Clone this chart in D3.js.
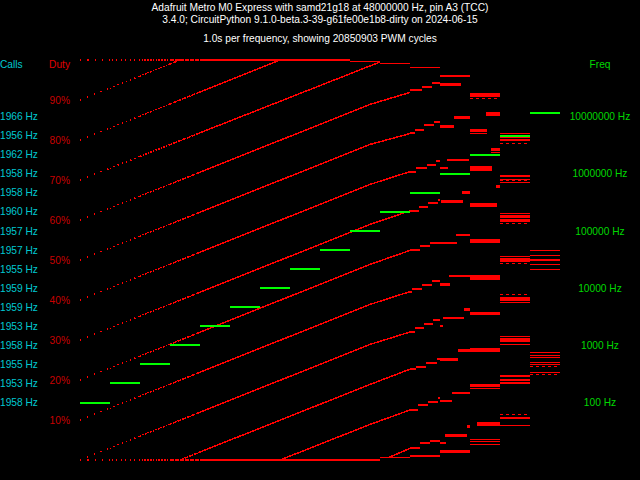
<!DOCTYPE html>
<html><head><meta charset="utf-8">
<script src="https://cdn.jsdelivr.net/npm/d3@7"></script>
<style>
body{margin:0;background:#000;}
svg{display:block;background:#000;}
text{font-family:"Liberation Sans",Arial,sans-serif;font-size:10.2px;}
</style>
</head><body>
<svg id="chart" width="640" height="480"></svg>
<script>
// ---------- data ----------
const titleLines = [
  "Adafruit Metro M0 Express with samd21g18 at 48000000 Hz, pin A3 (TCC)",
  "3.4.0; CircuitPython 9.1.0-beta.3-39-g61fe00e1b8-dirty on 2024-06-15",
  "1.0s per frequency, showing 20850903 PWM cycles"
];
const requestedFreqs = [100, 215, 464, 1000, 2154, 4642, 10000, 21544, 46416,
  100000, 215443, 464159, 1000000, 2154435, 4641589, 10000000];
const measuredFreqs = [100, 215, 464, 1000, 2154, 4642, 10000, 21544, 46416,
  100000, 215443, 464159, 1000000, 2154435, 4641589, 11600000];
const callsPerSec = [1958, 1953, 1955, 1958, 1953, 1959, 1959, 1955, 1957,
  1957, 1960, 1958, 1958, 1962, 1956, 1966];
const freqTicks = [100, 1000, 10000, 100000, 1000000, 10000000];
const dutyTicks = [10, 20, 30, 40, 50, 60, 70, 80, 90];
const secondsPerFreq = 1.0;

// measured-duty traces up to 215 kHz: [time s, duty %]
const trace0 = [[0, 0], [9.67, 28.9], [11, 32.0]];
const trace1 = [[0, 10], [9.67, 38.9], [11, 42.1]];
const trace2 = [[0, 20], [9.67, 48.9], [11, 52.4]];
const trace3 = [[0, 30], [9.67, 58.9], [11, 62.3]];
const trace4 = [[0, 40], [9.67, 68.9], [11, 72.1]];
const trace5 = [[0, 50], [9.67, 78.9], [11, 81.6]];
const trace6 = [[0, 60], [9.67, 88.9], [11, 91.9]];
const trace7 = [[0, 70], [10, 99.5]];
const trace8 = [[0, 80], [6.67, 100]];
const trace9 = [[0, 90], [3.33, 100]];
const traceE1 = [[3.33, 0], [9.67, 18.9], [11, 22.7]];
const traceE2 = [[6.67, 0], [9.67, 8.9], [11, 12.5]];
const traceE3 = [[10.25, 0.5], [11, 2.9]];
const topClamp = [[0, 100], [9, 100]];
const topClamp2 = [[9, 99.6], [10, 99.6]];
const bottomClamp = [[0, 0], [10, 0]];

// 464 kHz staircase levels: [step start time s, duty %]
const steps0 = [[11, 32.1], [11.17, 33.1], [11.47, 34.1], [11.77, 35.1], [12, 35.1]];
const steps1 = [[11, 42.1], [11.07, 42.8], [11.4, 43.8], [11.73, 44.8], [12, 44.8]];
const steps2 = [[11, 52.5], [11.33, 53.4], [11.67, 54.3], [12, 54.3]];
const steps3 = [[11, 62.3], [11.3, 63.2], [11.6, 64.2], [11.93, 65.0], [12, 65.0]];
const steps4 = [[11, 72.1], [11.2, 72.9], [11.57, 73.8], [11.87, 74.75], [12, 74.75]];
const steps5 = [[11, 81.7], [11.17, 82.5], [11.47, 83.7], [11.8, 84.6], [12, 84.6]];
const steps6 = [[11, 92.4], [11.4, 93.25], [11.73, 94.3], [12, 94.3]];
const stepsE1 = [[11, 22.7], [11.2, 23.25], [11.53, 24.25], [11.9, 25.25], [12, 25.25]];
const stepsE2 = [[11, 12.5], [11.27, 13.7], [11.6, 14.6], [11.93, 15.6], [12, 15.6]];
const stepsE3 = [[11, 3.1], [11.33, 4.2], [11.67, 4.8], [12, 4.8]];

// quantised readings as [t0, t1, dutyLow, dutyHigh]
const clampBars = [[10, 11, 99.0, 99.3], [11, 12, 98.05, 98.35], [12, 13, 95.7, 96.3],
  [10, 11, 0.4, 0.75], [11, 12, 0.8, 1.3], [12, 13, 1.8, 2.4]];
const bars1MHz = [
  [12, 12.7, 93.6, 94.3],
  [12, 12.47, 83.1, 83.75], [12.47, 13, 85.3, 86.0],
  [12, 12.27, 72.75, 73.3], [12.23, 12.97, 74.75, 75.2],
  [12.03, 12.77, 64.3, 65.0], [12.73, 13, 66.5, 67.25],
  [12, 12.57, 53.9, 54.4], [12.53, 13, 56.1, 56.4],
  [12, 12.33, 43.6, 44.2], [12.3, 13, 45.7, 46.25],
  [12, 12.1, 33.25, 33.75], [12.1, 12.8, 35.2, 35.75], [12.8, 13, 37.3, 38.0],
  [12, 12.6, 24.8, 25.4], [12.6, 13, 26.9, 27.75],
  [12, 12.4, 14.4, 14.9], [12.4, 13, 16.4, 16.9],
  [12, 12.2, 3.9, 4.4], [12.17, 12.9, 5.8, 6.5], [12.9, 13, 8.1, 8.75]
];
const bars2MHz = [
  [13, 14, 90.8, 91.8], [13.53, 14, 86.1, 86.9], [13, 13.57, 81.9, 82.75],
  [13, 13.57, 81.55, 81.8], [13.7, 14, 77.25, 78.0], [13.7, 14, 76.9, 77.1],
  [13, 13.73, 72.3, 73.5], [13.87, 14, 68.0, 68.75], [13, 13.9, 63.3, 64.2],
  [13, 14, 54.2, 55.25], [13, 14, 45.0, 46.25], [13, 14, 36.2, 37.0],
  [13, 14, 26.9, 27.9], [13, 14, 18.25, 18.9], [13, 14, 17.85, 18.1],
  [13.23, 14, 8.6, 9.6], [13, 14, 5.05, 5.3], [13, 14, 4.45, 4.7], [13, 14, 3.9, 4.1]
];
const bars5MHz = [
  [14, 15, 81.6, 81.85], [14, 15, 80.6, 80.8], [14, 15, 79.8, 80.2],
  [14, 15, 70.75, 71.25], [14, 15, 70.1, 70.35], [14, 15, 69.15, 69.4],
  [14, 15, 61.6, 61.8], [14, 15, 60.6, 61.25], [14, 15, 59.6, 60.25],
  [14, 15, 50.9, 51.1], [14, 15, 49.6, 50.6],
  [14, 15, 39.8, 40.7], [14, 15, 39.35, 39.55],
  [14, 15, 30.9, 31.1], [14, 15, 29.4, 30.4], [14, 15, 28.75, 29.1],
  [14, 15, 20.8, 21.25], [14, 15, 19.8, 20.25], [14, 15, 19.0, 19.4],
  [14, 15, 10.25, 10.75], [14, 15, 8.65, 8.85]
];
const bars10MHz = [
  [15, 16, 52.3, 52.55], [15, 16, 51.05, 51.3], [15, 16, 49.75, 50.2],
  [15, 16, 48.9, 49.1], [15, 16, 47.55, 47.8],
  [15, 16, 26.8, 27.05], [15, 16, 26.1, 26.35], [15, 16, 25.55, 25.8],
  [15, 16, 24.3, 24.55], [15, 16, 23.8, 24.05], [15, 16, 21.9, 22.1]
];
const sparseBars = [
  [13, 14, 90.3, 90.55],
  [14, 15, 79.1, 79.3], [14, 15, 69.7, 69.9], [14, 15, 59.1, 59.3],
  [14, 15, 49.1, 49.3], [14, 15, 41.35, 41.55], [14, 15, 11.35, 11.55],
  [15, 16, 23.25, 23.5], [15, 16, 21.3, 21.55]
];

// ---------- drawing ----------
const svg = d3.select("#chart");
const W = 640, H = 480;
svg.append("rect").attr("width", W).attr("height", H).attr("fill", "#000");

const nSeg = requestedFreqs.length;
const x = d3.scaleLinear().domain([0, nSeg * secondsPerFreq]).range([80, 560]);
const y = d3.scaleLinear().domain([0, 100]).range([460, 60]);
const yf = d3.scaleLog().domain([100, 10000000]).range([402.5, 116.5]);

const RED = "#ff0000";

// titles
const titleY = [7, 19, 38];
svg.selectAll("text.title").data(titleLines).join("text")
  .attr("class", "title")
  .attr("x", 320).attr("y", (d, i) => titleY[i] + 3.6)
  .attr("text-anchor", "middle").attr("fill", "#ffffff").text(d => d);

// headers
svg.append("text").attr("x", 0).attr("y", 67.6).attr("fill", "#00c8d2").text("Calls");
svg.append("text").attr("x", 70).attr("y", 67.6).attr("text-anchor", "end").attr("fill", "#e00000").text("Duty");
svg.append("text").attr("x", 600).attr("y", 67.6).attr("text-anchor", "middle").attr("fill", "#00d800").text("Freq");

// duty ticks
svg.selectAll("text.duty").data(dutyTicks).join("text")
  .attr("class", "duty").attr("x", 70).attr("y", d => y(d) + 3.6)
  .attr("text-anchor", "end").attr("fill", "#c80000").text(d => d + "%");

// calls labels
svg.selectAll("text.calls").data(callsPerSec).join("text")
  .attr("class", "calls").attr("x", 0).attr("y", (d, i) => yf(requestedFreqs[i]) + 3.6)
  .attr("fill", "#00c8d2").text(d => d + " Hz");

// freq labels
svg.selectAll("text.freq").data(freqTicks).join("text")
  .attr("class", "freq").attr("x", 600).attr("y", d => yf(d) + 3.6)
  .attr("text-anchor", "middle").attr("fill", "#00d800").text(d => d + " Hz");

// clip regions per frequency for sample density
const defs = svg.append("defs");
const densities = [
  {k0: 0, k1: 1, dash: "1.3 6"},
  {k0: 1, k1: 2, dash: "1.3 3.2"},
  {k0: 2, k1: 3, dash: "1.6 1.2"},
  {k0: 3, k1: 4, dash: "4 1"},
  {k0: 4, k1: 16, dash: null}
];
densities.forEach((dd, i) => {
  defs.append("clipPath").attr("id", "clip" + i).append("rect")
    .attr("x", x(dd.k0 * secondsPerFreq)).attr("y", 0)
    .attr("width", x(dd.k1 * secondsPerFreq) - x(dd.k0 * secondsPerFreq)).attr("height", H);
});

const traces = [trace0, trace1, trace2, trace3, trace4, trace5, trace6, trace7, trace8, trace9,
  traceE1, traceE2, traceE3, topClamp, topClamp2, bottomClamp];
const line = d3.line().x(d => x(d[0])).y(d => y(d[1]));

densities.forEach((dd, i) => {
  const g = svg.append("g").attr("clip-path", "url(#clip" + i + ")");
  g.selectAll("path").data(traces).join("path")
    .attr("d", line).attr("fill", "none").attr("stroke", RED)
    .attr("stroke-width", 1.5)
    .attr("stroke-dasharray", dd.dash)
    .attr("shape-rendering", "crispEdges");
});

// 464 kHz staircases: horizontal treads only
const stairs = [steps0, steps1, steps2, steps3, steps4, steps5, steps6, stepsE1, stepsE2, stepsE3];
const treads = [].concat(...stairs.map(s => d3.pairs(s)));
svg.append("g").selectAll("line").data(treads).join("line")
  .attr("x1", d => x(d[0][0])).attr("x2", d => x(d[1][0]))
  .attr("y1", d => y(d[0][1])).attr("y2", d => y(d[0][1]))
  .attr("stroke", RED).attr("stroke-width", 2)
  .attr("shape-rendering", "crispEdges");

// quantised bars
const allBars = [].concat(clampBars, bars1MHz, bars2MHz, bars5MHz, bars10MHz);
svg.append("g").selectAll("rect").data(allBars).join("rect")
  .attr("x", d => x(d[0])).attr("width", d => x(d[1]) - x(d[0]))
  .attr("y", d => y(d[3])).attr("height", d => Math.max(1, y(d[2]) - y(d[3])))
  .attr("fill", RED).attr("shape-rendering", "crispEdges");

svg.append("g").selectAll("line").data(sparseBars).join("line")
  .attr("x1", d => x(d[0])).attr("x2", d => x(d[1]))
  .attr("y1", d => (y(d[2]) + y(d[3])) / 2).attr("y2", d => (y(d[2]) + y(d[3])) / 2)
  .attr("stroke", RED).attr("stroke-width", 1).attr("stroke-dasharray", "3 3")
  .attr("shape-rendering", "crispEdges");

// measured frequency markers
svg.append("g").selectAll("line").data(measuredFreqs).join("line")
  .attr("x1", (d, i) => x(i * secondsPerFreq)).attr("x2", (d, i) => x((i + 1) * secondsPerFreq))
  .attr("y1", d => yf(d)).attr("y2", d => yf(d))
  .attr("stroke", "#00ff00").attr("stroke-width", 2)
  .attr("shape-rendering", "crispEdges");
</script>
</body></html>
